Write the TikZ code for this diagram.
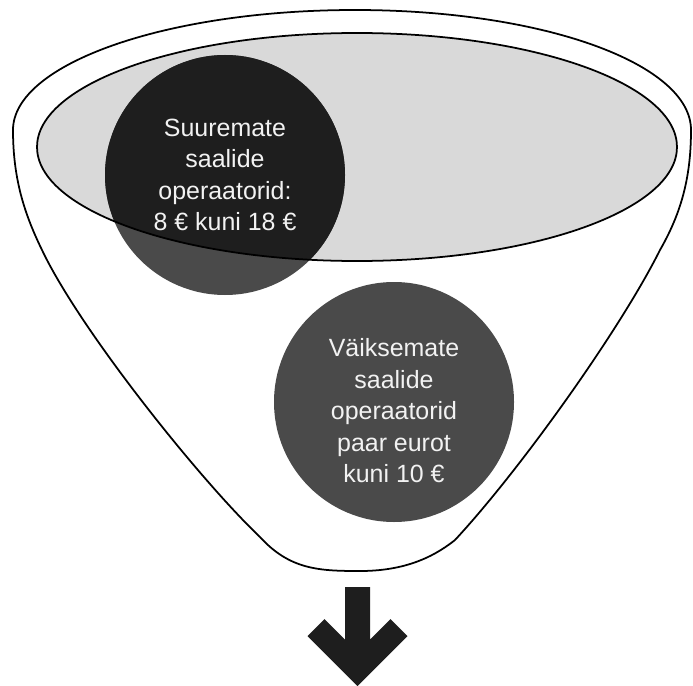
\documentclass[tikz,border=0pt]{standalone}
\usepackage{fontspec}
\setmainfont{Liberation Sans}
\definecolor{funnelgrey}{HTML}{D9D9D9}
\definecolor{bubblegrey}{HTML}{4A4A4A}
\definecolor{bubbledark}{HTML}{1E1E1E}
\definecolor{bubbletext}{HTML}{F2F2F2}
\begin{document}
\begin{tikzpicture}
  [x=0.02cm,y=-0.02cm
  ,outline/.style={draw=black,line width=1pt}
  ,label/.style={text=bubbletext,align=center,font=\fontsize{14.2}{17.9}\selectfont}
  ]

  % Bubble
  %
  % #1 - name
  % #2 - centre
  % #3 - colour
  \newcommand{\bubble}[3]{
    \coordinate (#1) at #2;
    \fill[#3] (#1) circle (120);
  }

  \useasboundingbox (0,0) rectangle (693,686);

  % funnel
  \draw[outline]
    (360,571) .. controls (320,571) and (290,570) .. (260,537)
    .. controls (200,480) and (80,330) .. (42,250)
    .. controls (25,215) and (13,180) .. (13,130)
    .. controls (13,64) and (166,10) .. (355,10)
    .. controls (544,10) and (691,64) .. (691,130)
    .. controls (691,180) and (680,215) .. (660,250)
    .. controls (620,330) and (520,470) .. (455,540)
    .. controls (430,560) and (400,571) .. (360,571);

  % top of the funnel
  \fill[funnelgrey] (357,147) ellipse [x radius=320,y radius=114];

  % big halls
  \bubble{big}{(225,175)}{bubblegrey}
  \begin{scope}
    \clip (357,147) ellipse [x radius=320,y radius=114];
    \fill[bubbledark] (big) circle (120);
  \end{scope}

  % contour
  \draw[outline] (357,147) ellipse [x radius=320,y radius=114];

  % small halls
  \bubble{small}{(394,402)}{bubblegrey}

  \node[label] (bigtext) at (big) {Suuremate\\saalide\\operaatorid:\\8 € kuni 18 €};
  \node[label] (smalltext) at ([yshift=-5]small) {Väiksemate\\saalide\\operaatorid\\paar eurot\\kuni 10 €};

  % arrow
  \fill[bubbledark] (345,587) -- (370,587) -- (370,639.5) -- (390.5,619)
    -- (407.5,636) -- (357.5,686) -- (307.5,636) -- (324.5,619)
    -- (345,639.5) -- cycle;

\end{tikzpicture}
\end{document}
